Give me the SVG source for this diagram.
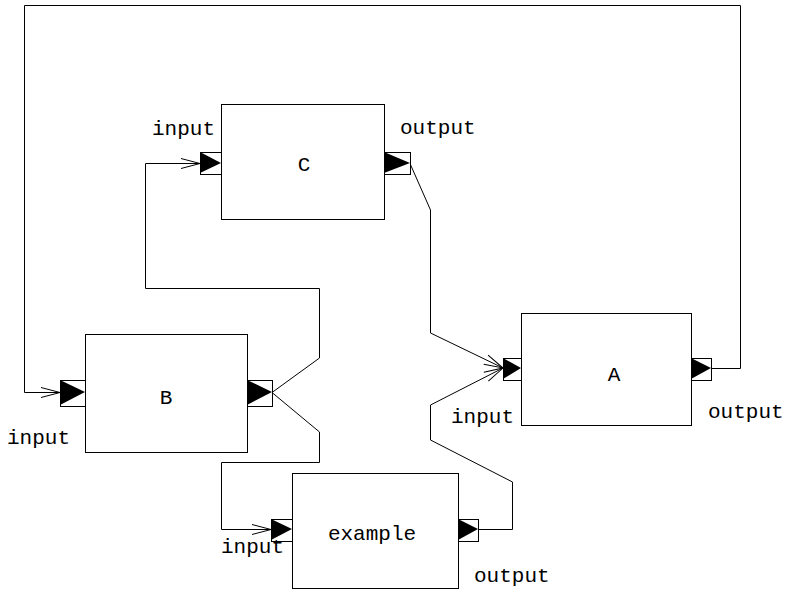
<svg xmlns="http://www.w3.org/2000/svg" width="785" height="593" viewBox="0 0 785 593">
<style>
.box{fill:#fff;stroke:#000;stroke-width:1}
.port{fill:#fff;stroke:#000;stroke-width:1}
.tri{fill:#000;stroke:none}
.wire{fill:none;stroke:#000;stroke-width:1}
text{font-family:"Liberation Mono","Courier New",monospace;font-size:21px;fill:#000}
.c{text-anchor:middle}
</style>
<defs>
<marker id="arr" markerWidth="22" markerHeight="14" refX="20" refY="7" orient="auto" markerUnits="userSpaceOnUse">
<path d="M1,2 L20,7 L1,12" fill="none" stroke="#000" stroke-width="1"/>
</marker>
</defs>
<rect width="785" height="593" fill="#fff"/>
<g id="connectors">
<path class="wire" d="M711,368.5 H740.5 V5.5 H24.5 V392.5 H60" marker-end="url(#arr)"/>
<path class="wire" d="M272,392.5 L319.5,358 V288.5 H145.5 V163.5 H200" marker-end="url(#arr)"/>
<path class="wire" d="M272,392.5 L319.5,432 V462.5 H221.5 V529.5 H271" marker-end="url(#arr)"/>
<path class="wire" d="M410,163.5 L430.5,210 V333 L503,368" marker-end="url(#arr)"/>
<path class="wire" d="M478,529.5 H512.5 V482 L430.5,440 V405 L503,368" marker-end="url(#arr)"/>
</g>
<g id="node-C">
<rect class="box" x="221.5" y="104.5" width="163" height="115"/>
<text class="c" x="304" y="171">C</text>
<rect class="port" x="200.5" y="152.5" width="21" height="22"/>
<polygon class="tri" points="200,152 200,173 221,163"/>
<rect class="port" x="384.5" y="152.5" width="26" height="22"/>
<polygon class="tri" points="384,152 384,173 410,163"/>
<text x="152" y="135">input</text>
<text x="400" y="134">output</text>
</g>
<g id="node-B">
<rect class="box" x="85.5" y="334.5" width="162" height="118"/>
<text class="c" x="166" y="404">B</text>
<rect class="port" x="60.5" y="380.5" width="25" height="26"/>
<polygon class="tri" points="60,380 60,405 85,392"/>
<rect class="port" x="247.5" y="380.5" width="25" height="26"/>
<polygon class="tri" points="247,380 247,405 272,392"/>
<text x="7" y="444">input</text>
</g>
<g id="node-example">
<rect class="box" x="292.5" y="473.5" width="166" height="115"/>
<text class="c" x="372" y="540">example</text>
<rect class="port" x="271.5" y="519.5" width="21" height="22"/>
<polygon class="tri" points="271,519 271,540 292,529"/>
<rect class="port" x="458.5" y="519.5" width="20" height="22"/>
<polygon class="tri" points="458,519 458,540 478,529"/>
<text x="221" y="553">input</text>
<text x="474" y="582">output</text>
</g>
<g id="node-A">
<rect class="box" x="521.5" y="313.5" width="170" height="112"/>
<text class="c" x="614" y="381">A</text>
<rect class="port" x="503.5" y="358.5" width="18" height="22"/>
<polygon class="tri" points="503,358 503,379 521,368"/>
<rect class="port" x="691.5" y="358.5" width="20" height="22"/>
<polygon class="tri" points="691,358 691,379 711,368"/>
<text x="451" y="423">input</text>
<text x="708" y="418">output</text>
</g>
</svg>
